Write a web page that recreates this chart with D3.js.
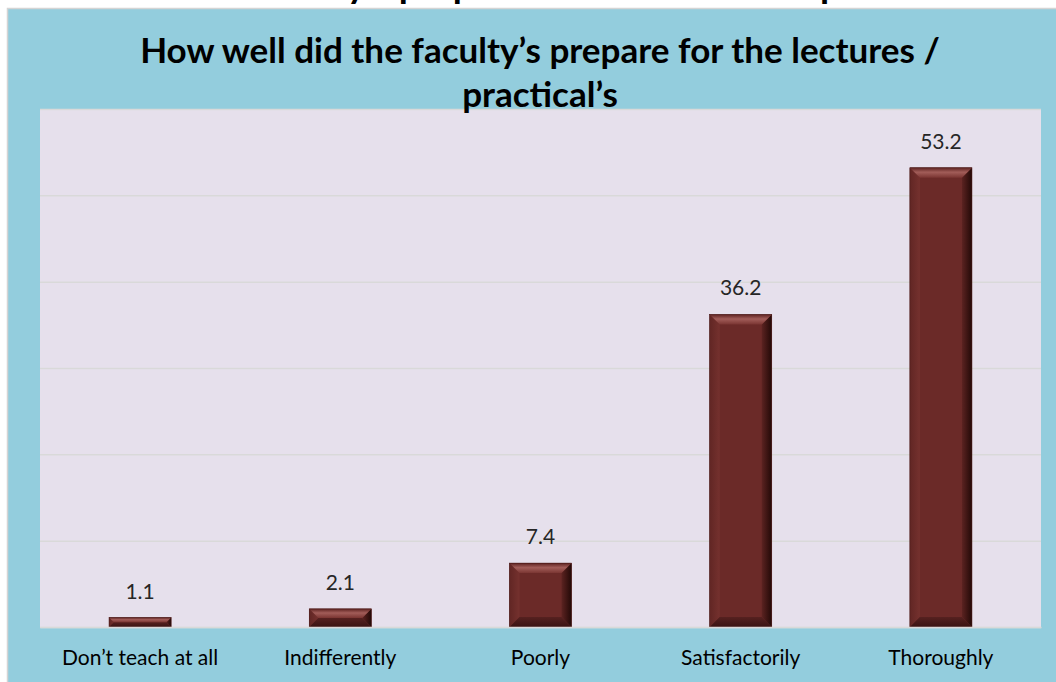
<!DOCTYPE html>
<html>
<head>
<meta charset="utf-8">
<script src="https://cdn.jsdelivr.net/npm/d3@7"></script>
<style>
  html, body { margin: 0; padding: 0; background: #ffffff; }
  svg { display: block; font-family: Lato, "Open Sans", "Liberation Sans", sans-serif; }
</style>
</head>
<body>
<svg id="chart" width="1056" height="682"></svg>
<script>
// ---- data ----
const categories = ["Don’t teach at all", "Indifferently", "Poorly", "Satisfactorily", "Thoroughly"];
const values = [1.1, 2.1, 7.4, 36.2, 53.2];
const yTicks = [0, 10, 20, 30, 40, 50, 60];
const titleLines = ["How well did the faculty’s prepare for the lectures /", "practical’s"];
const pageCaption = "How well did the faculty’s prepare for the lectures / practical’s";

// ---- layout ----
const W = 1056, H = 682;
const plot = { left: 40, right: 1041, top: 109, bottom: 627 };

const svg = d3.select("#chart");

// gradients
const defs = svg.append("defs");
function linGrad(id, x2, y2, stops) {
  const g = defs.append("linearGradient").attr("id", id)
    .attr("x1", 0).attr("y1", 0).attr("x2", x2).attr("y2", y2);
  stops.forEach(s => g.append("stop").attr("offset", s[0]).attr("stop-color", s[1]));
}
linGrad("bevTop", 0, 1, [[0, "#5e2321"], [0.45, "#a25d59"], [1, "#7a3532"]]);
linGrad("bevRight", 1, 0, [[0, "#5c2321"], [1, "#230907"]]);
linGrad("bevLeft", 1, 0, [[0, "#612624"], [1, "#75312e"]]);
linGrad("bevBottom", 0, 1, [[0, "#562120"], [1, "#3a1312"]]);

// page background (white) with cropped caption above the chart
svg.append("rect").attr("width", W).attr("height", H).attr("fill", "#ffffff");
const cap = svg.append("text")
  .attr("y", -2)
  .attr("font-weight", "bold")
  .attr("font-size", 37)
  .attr("fill", "#000")
  .text(pageCaption);

// chart panel
svg.append("rect")
  .attr("x", 7.5).attr("y", 8.5)
  .attr("width", W + 10).attr("height", H + 10)
  .attr("fill", "#93cddd")
  .attr("stroke", "#d4d4d4").attr("stroke-width", 1.5);

// plot area
svg.append("rect")
  .attr("x", plot.left).attr("y", plot.top)
  .attr("width", plot.right - plot.left).attr("height", plot.bottom - plot.top)
  .attr("fill", "#e6e0ec");

// scales
const x = d3.scaleBand().domain(categories)
  .range([plot.left, plot.right])
  .paddingInner(0.69).paddingOuter(0.345);
const y = d3.scaleLinear().domain([0, 60]).range([plot.bottom, plot.top]);

// gridlines
const grid = svg.append("g")
  .attr("transform", `translate(${plot.left},0)`)
  .call(d3.axisLeft(y).tickValues(yTicks).tickSize(-(plot.right - plot.left)).tickFormat(""));
grid.select(".domain").remove();
grid.selectAll(".tick line").attr("stroke", "#d9d9d9").attr("stroke-width", 1.5);

// bars with bevel
const bars = svg.append("g").selectAll("g").data(values).join("g");
bars.each(function(v, i) {
  const g = d3.select(this);
  const x0 = x(categories[i]), x1 = x0 + x.bandwidth();
  const y0 = y(v), y1 = y(0);
  const b = Math.min(10, (y1 - y0) / 2, (x1 - x0) / 2);
  g.append("rect").attr("x", x0).attr("y", y0).attr("width", x1 - x0).attr("height", y1 - y0)
    .attr("fill", "#6b2a28");
  const poly = (pts, fill) => g.append("path")
    .attr("d", "M" + pts.map(p => p.join(",")).join("L") + "Z").attr("fill", fill);
  poly([[x0, y0], [x0 + b, y0 + b], [x0 + b, y1 - b], [x0, y1]], "url(#bevLeft)");
  poly([[x1, y0], [x1, y1], [x1 - b, y1 - b], [x1 - b, y0 + b]], "url(#bevRight)");
  poly([[x0, y1], [x0 + b, y1 - b], [x1 - b, y1 - b], [x1, y1]], "url(#bevBottom)");
  poly([[x0, y0], [x1, y0], [x1 - b, y0 + b], [x0 + b, y0 + b]], "url(#bevTop)");
  g.append("rect").attr("x", x0).attr("y", y0).attr("width", x1 - x0).attr("height", y1 - y0)
    .attr("fill", "none").attr("stroke", "#4a1a18").attr("stroke-width", 0.6);
});

// value labels
svg.append("g").selectAll("text").data(values).join("text")
  .attr("x", (d, i) => x(categories[i]) + x.bandwidth() / 2)
  .attr("y", d => y(d) - 19)
  .attr("text-anchor", "middle")
  .attr("font-size", 21)
  .attr("fill", "#262626")
  .text(d => d.toFixed(1));

// category labels
const xAxis = svg.append("g")
  .attr("transform", `translate(0,${plot.bottom})`)
  .call(d3.axisBottom(x).tickSize(0).tickPadding(0));
xAxis.select(".domain").attr("stroke", "#d9d9d9").attr("stroke-width", 1.5);
xAxis.selectAll(".tick text")
  .attr("dy", 0).attr("y", 38)
  .attr("font-family", "Lato, 'Open Sans', sans-serif")
  .attr("font-size", 21)
  .attr("fill", "#000");

// title
const title = svg.append("text")
  .attr("text-anchor", "middle")
  .attr("font-weight", "bold")
  .attr("fill", "#000");
title.selectAll("tspan").data(titleLines).join("tspan")
  .attr("x", 540)
  .attr("y", (d, i) => 63 + i * 44)
  .text(d => d);
// fit title width to the reference (~800px for first line)
title.attr("font-size", 32);
const l1 = title.select("tspan").node().getComputedTextLength();
title.attr("font-size", 32 * 800 / l1);

// place cropped caption so its "y" of faculty sits near x=333
cap.attr("x", 0);
const idx = pageCaption.indexOf("faculty") + 5;
const off = cap.node().getSubStringLength(0, idx);
cap.attr("x", 333 - off);
</script>
</body>
</html>
